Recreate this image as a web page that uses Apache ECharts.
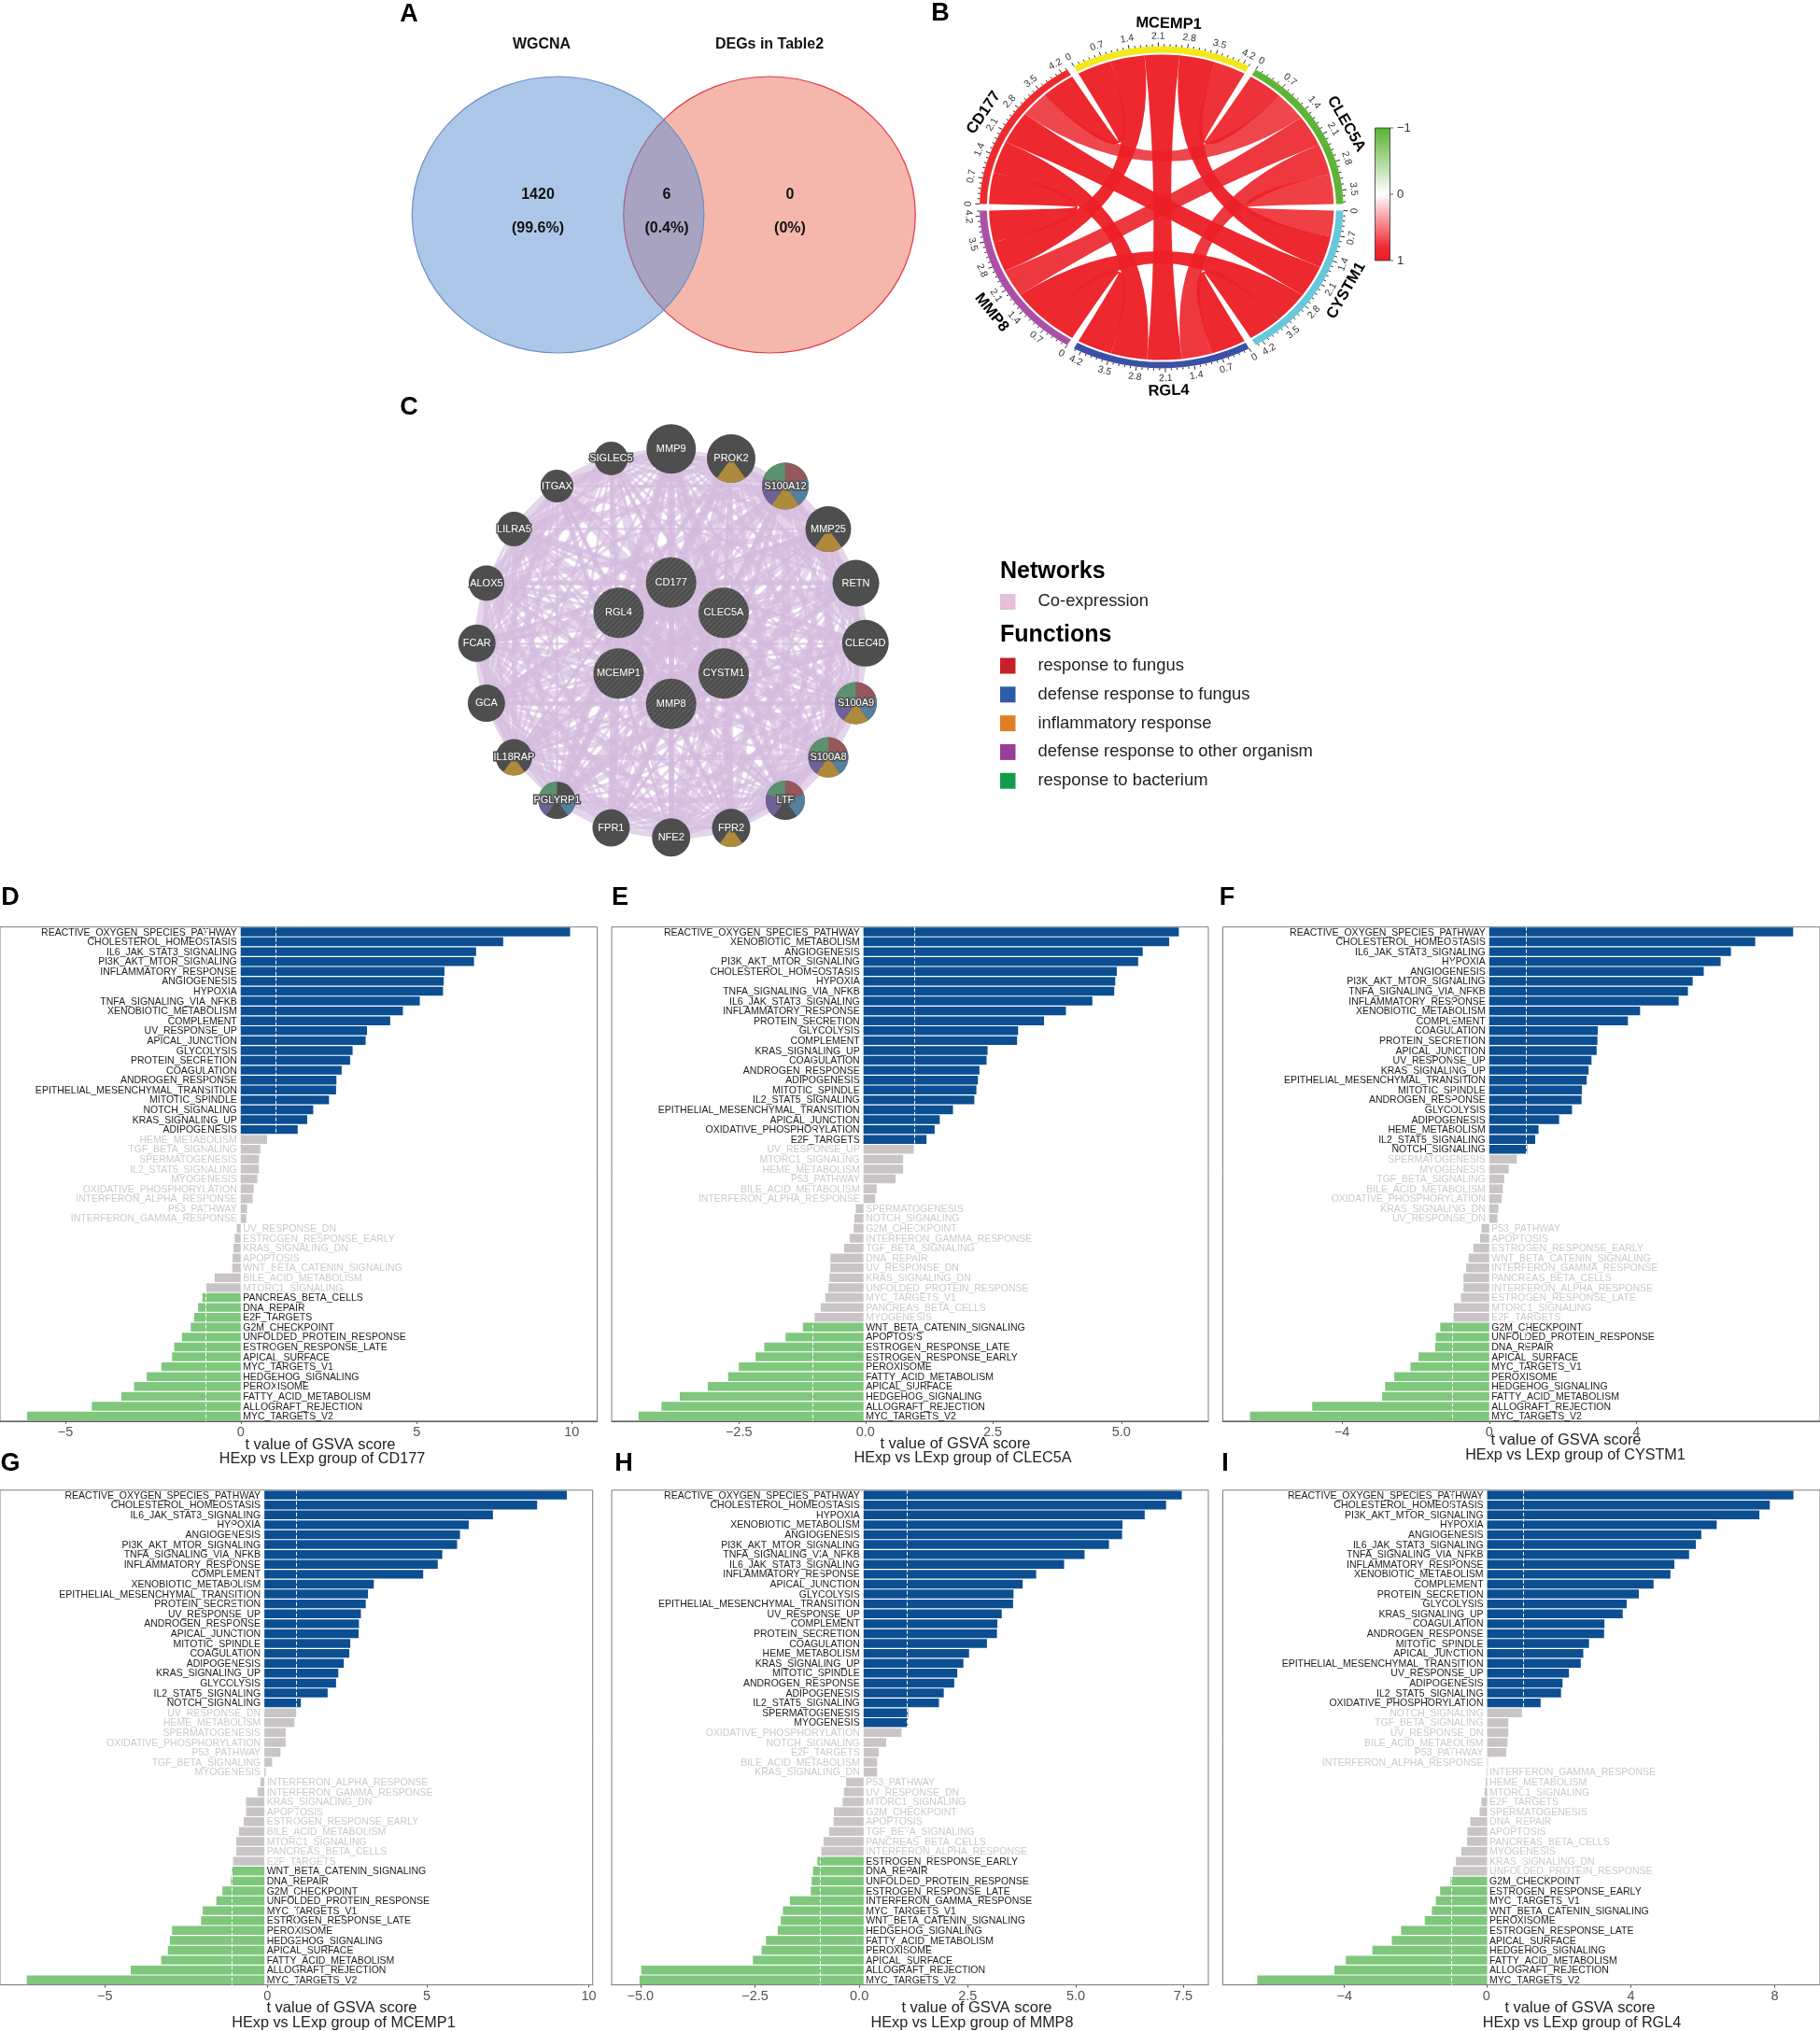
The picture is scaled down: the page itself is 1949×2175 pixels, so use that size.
<!DOCTYPE html>
<html>
<head>
<meta charset="utf-8">
<title>GSVA figure</title>
<script src="https://cdn.jsdelivr.net/npm/echarts@6/dist/echarts.min.js"></script>
<style>
  html,body{margin:0;padding:0;background:#fff;}
  #main{width:1949px;height:2175px;}
</style>
</head>
<body>
<div id="main"></div>
<script type="text/javascript">
// panel A
var vennSets = ['WGCNA', 'DEGs in Table2'];
var vennCounts = ['1420', '6', '0'];
var vennShares = ['(99.6%)', '(0.4%)', '(0%)'];

// panel B
var chordGenes = ['MCEMP1', 'CLEC5A', 'CYSTM1', 'RGL4', 'MMP8', 'CD177'];
var chordCorr = [
  [0,    0.80, 0.92, 0.88, 0.87, 0.88],
  [0.80, 0,    0.75, 0.78, 0.78, 0.72],
  [0.92, 0.75, 0,    0.90, 0.90, 0.93],
  [0.88, 0.78, 0.90, 0,    0.90, 0.93],
  [0.87, 0.78, 0.90, 0.90, 0,    0.90],
  [0.88, 0.72, 0.93, 0.93, 0.90, 0]
];
var chordTicks = [0, 0.7, 1.4, 2.1, 2.8, 3.5, 4.2];
var chordColors = ['#f4e81b', '#5fb437', '#67c8dc', '#3a50a4', '#ab50a6', '#ee2a2f'];

// panel C
var netOuter = ['MMP9','PROK2','S100A12','MMP25','RETN','CLEC4D','S100A9','S100A8','LTF','FPR2','NFE2','FPR1','PGLYRP1','IL18RAP','GCA','FCAR','ALOX5','LILRA5','ITGAX','SIGLEC5'];
var netOuterScore = [53,52,50,49,50,50,45,43,42,41,41,40,40,39,40,40,38,37,35,36];
var netInner = ['CD177','CLEC5A','CYSTM1','MMP8','MCEMP1','RGL4'];
var netInnerScore = [54,54,54,54,54,54];
var netFunctions = {S100A12:[0,1,2,3,4],S100A9:[0,1,2,3,4],S100A8:[0,1,2,3,4],LTF:[0,1,3,4],PGLYRP1:[1,3,4],PROK2:[2],MMP25:[2],FPR2:[2],IL18RAP:[2]};
var legendFunctions = ['response to fungus','defense response to fungus','inflammatory response','defense response to other organism','response to bacterium'];
var legendColors = ['#c8202a','#2f5ca8','#e07f22','#9a3d98','#0f9d4b'];
var sliceColors = ['#95585c','#55809f','#ae8a3d','#6e6298','#5c9170'];
// co-expression weight, upper triangle, read row by row
var netEdges = [
  '12321 21312 13111 21323 23132','3231 21212 13121 12123 12312','423 21321 21212 13112 32132','32 13212 12131 21012 23123',
  '3 21213 12121 10112 21321','31212 12101 11012 13212','4321 21210 11012 31232','532 11210 10112 32123',
  '32 12121 01012 12312','3 13121 10113 23121','21212 21102 13212','3121 21012 21323','232 12112 13212',
  '23 12112 32131','3 21223 13212','31232 12313','1242 12121','313 12132','42 13121','1 21312','32213','2322','323','23','3'
];

// panels D-I
var panelGenes = ['CD177','CLEC5A','CYSTM1','MCEMP1','MMP8','RGL4'];

var dTerms = ['REACTIVE_OXYGEN_SPECIES_PATHWAY','CHOLESTEROL_HOMEOSTASIS','IL6_JAK_STAT3_SIGNALING','PI3K_AKT_MTOR_SIGNALING','INFLAMMATORY_RESPONSE','ANGIOGENESIS','HYPOXIA','TNFA_SIGNALING_VIA_NFKB','XENOBIOTIC_METABOLISM','COMPLEMENT','UV_RESPONSE_UP','APICAL_JUNCTION','GLYCOLYSIS','PROTEIN_SECRETION','COAGULATION','ANDROGEN_RESPONSE','EPITHELIAL_MESENCHYMAL_TRANSITION','MITOTIC_SPINDLE','NOTCH_SIGNALING','KRAS_SIGNALING_UP','ADIPOGENESIS','HEME_METABOLISM','TGF_BETA_SIGNALING','SPERMATOGENESIS','IL2_STAT5_SIGNALING','MYOGENESIS','OXIDATIVE_PHOSPHORYLATION','INTERFERON_ALPHA_RESPONSE','P53_PATHWAY','INTERFERON_GAMMA_RESPONSE','UV_RESPONSE_DN','ESTROGEN_RESPONSE_EARLY','KRAS_SIGNALING_DN','APOPTOSIS','WNT_BETA_CATENIN_SIGNALING','BILE_ACID_METABOLISM','MTORC1_SIGNALING','PANCREAS_BETA_CELLS','DNA_REPAIR','E2F_TARGETS','G2M_CHECKPOINT','UNFOLDED_PROTEIN_RESPONSE','ESTROGEN_RESPONSE_LATE','APICAL_SURFACE','MYC_TARGETS_V1','HEDGEHOG_SIGNALING','PEROXISOME','FATTY_ACID_METABOLISM','ALLOGRAFT_REJECTION','MYC_TARGETS_V2'];
var dValues = [9.36,7.46,6.69,6.63,5.79,5.77,5.75,5.09,4.61,4.25,3.59,3.55,3.18,3.11,2.87,2.72,2.71,2.51,2.06,1.89,1.62,0.75,0.56,0.52,0.52,0.47,0.37,0.34,0.18,0.16,-0.11,-0.17,-0.21,-0.23,-0.24,-0.74,-0.98,-1.09,-1.21,-1.32,-1.42,-1.67,-1.89,-1.95,-2.25,-2.67,-3.03,-3.39,-4.23,-6.07];
var dTickAt = [-4.98,0,5,9.41];
var dTickText = ['\u22125','0','5','10'];

var eTerms = ['REACTIVE_OXYGEN_SPECIES_PATHWAY','XENOBIOTIC_METABOLISM','ANGIOGENESIS','PI3K_AKT_MTOR_SIGNALING','CHOLESTEROL_HOMEOSTASIS','HYPOXIA','TNFA_SIGNALING_VIA_NFKB','IL6_JAK_STAT3_SIGNALING','INFLAMMATORY_RESPONSE','PROTEIN_SECRETION','GLYCOLYSIS','COMPLEMENT','KRAS_SIGNALING_UP','COAGULATION','ANDROGEN_RESPONSE','ADIPOGENESIS','MITOTIC_SPINDLE','IL2_STAT5_SIGNALING','EPITHELIAL_MESENCHYMAL_TRANSITION','APICAL_JUNCTION','OXIDATIVE_PHOSPHORYLATION','E2F_TARGETS','UV_RESPONSE_UP','MTORC1_SIGNALING','HEME_METABOLISM','P53_PATHWAY','BILE_ACID_METABOLISM','INTERFERON_ALPHA_RESPONSE','SPERMATOGENESIS','NOTCH_SIGNALING','G2M_CHECKPOINT','INTERFERON_GAMMA_RESPONSE','TGF_BETA_SIGNALING','DNA_REPAIR','UV_RESPONSE_DN','KRAS_SIGNALING_DN','UNFOLDED_PROTEIN_RESPONSE','MYC_TARGETS_V1','PANCREAS_BETA_CELLS','MYOGENESIS','WNT_BETA_CATENIN_SIGNALING','APOPTOSIS','ESTROGEN_RESPONSE_LATE','ESTROGEN_RESPONSE_EARLY','PEROXISOME','FATTY_ACID_METABOLISM','APICAL_SURFACE','HEDGEHOG_SIGNALING','ALLOGRAFT_REJECTION','MYC_TARGETS_V2'];
var eValues = [6.20,6.01,5.49,5.40,4.98,4.95,4.93,4.50,3.98,3.55,3.04,3.02,2.44,2.42,2.28,2.25,2.22,2.18,1.76,1.50,1.40,1.24,0.99,0.78,0.78,0.63,0.26,0.23,-0.15,-0.18,-0.19,-0.27,-0.38,-0.65,-0.65,-0.67,-0.69,-0.75,-0.84,-0.96,-1.19,-1.53,-1.95,-2.12,-2.45,-2.66,-3.06,-3.61,-3.97,-4.42];
var eTickAt = [-2.45,0.04,2.54,5.07];
var eTickText = ['\u22122.5','0.0','2.5','5.0'];

var fTerms = ['REACTIVE_OXYGEN_SPECIES_PATHWAY','CHOLESTEROL_HOMEOSTASIS','IL6_JAK_STAT3_SIGNALING','HYPOXIA','ANGIOGENESIS','PI3K_AKT_MTOR_SIGNALING','TNFA_SIGNALING_VIA_NFKB','INFLAMMATORY_RESPONSE','XENOBIOTIC_METABOLISM','COMPLEMENT','COAGULATION','PROTEIN_SECRETION','APICAL_JUNCTION','UV_RESPONSE_UP','KRAS_SIGNALING_UP','EPITHELIAL_MESENCHYMAL_TRANSITION','MITOTIC_SPINDLE','ANDROGEN_RESPONSE','GLYCOLYSIS','ADIPOGENESIS','HEME_METABOLISM','IL2_STAT5_SIGNALING','NOTCH_SIGNALING','SPERMATOGENESIS','MYOGENESIS','TGF_BETA_SIGNALING','BILE_ACID_METABOLISM','OXIDATIVE_PHOSPHORYLATION','KRAS_SIGNALING_DN','UV_RESPONSE_DN','P53_PATHWAY','APOPTOSIS','ESTROGEN_RESPONSE_EARLY','WNT_BETA_CATENIN_SIGNALING','INTERFERON_GAMMA_RESPONSE','PANCREAS_BETA_CELLS','INTERFERON_ALPHA_RESPONSE','ESTROGEN_RESPONSE_LATE','MTORC1_SIGNALING','E2F_TARGETS','G2M_CHECKPOINT','UNFOLDED_PROTEIN_RESPONSE','DNA_REPAIR','APICAL_SURFACE','MYC_TARGETS_V1','PEROXISOME','HEDGEHOG_SIGNALING','FATTY_ACID_METABOLISM','ALLOGRAFT_REJECTION','MYC_TARGETS_V2'];
var fValues = [8.26,7.23,6.57,6.29,5.83,5.53,5.40,5.15,4.10,3.77,2.95,2.94,2.92,2.78,2.70,2.65,2.52,2.51,2.25,1.90,1.34,1.25,1.03,0.75,0.53,0.41,0.37,0.34,0.25,0.22,-0.21,-0.25,-0.43,-0.56,-0.63,-0.70,-0.70,-0.77,-0.96,-0.97,-1.33,-1.45,-1.47,-1.92,-2.14,-2.58,-2.83,-2.91,-4.81,-6.50];
var fTickAt = [-4,0,4];
var fTickText = ['\u22124','0','4'];

var gTerms = ['REACTIVE_OXYGEN_SPECIES_PATHWAY','CHOLESTEROL_HOMEOSTASIS','IL6_JAK_STAT3_SIGNALING','HYPOXIA','ANGIOGENESIS','PI3K_AKT_MTOR_SIGNALING','TNFA_SIGNALING_VIA_NFKB','INFLAMMATORY_RESPONSE','COMPLEMENT','XENOBIOTIC_METABOLISM','EPITHELIAL_MESENCHYMAL_TRANSITION','PROTEIN_SECRETION','UV_RESPONSE_UP','ANDROGEN_RESPONSE','APICAL_JUNCTION','MITOTIC_SPINDLE','COAGULATION','ADIPOGENESIS','KRAS_SIGNALING_UP','GLYCOLYSIS','IL2_STAT5_SIGNALING','NOTCH_SIGNALING','UV_RESPONSE_DN','HEME_METABOLISM','SPERMATOGENESIS','OXIDATIVE_PHOSPHORYLATION','P53_PATHWAY','TGF_BETA_SIGNALING','MYOGENESIS','INTERFERON_ALPHA_RESPONSE','INTERFERON_GAMMA_RESPONSE','KRAS_SIGNALING_DN','APOPTOSIS','ESTROGEN_RESPONSE_EARLY','BILE_ACID_METABOLISM','MTORC1_SIGNALING','PANCREAS_BETA_CELLS','E2F_TARGETS','WNT_BETA_CATENIN_SIGNALING','DNA_REPAIR','G2M_CHECKPOINT','UNFOLDED_PROTEIN_RESPONSE','MYC_TARGETS_V1','ESTROGEN_RESPONSE_LATE','PEROXISOME','HEDGEHOG_SIGNALING','APICAL_SURFACE','FATTY_ACID_METABOLISM','ALLOGRAFT_REJECTION','MYC_TARGETS_V2'];
var gValues = [9.37,8.45,7.08,6.33,6.06,5.97,5.51,5.37,4.92,3.39,3.21,3.14,2.99,2.93,2.92,2.66,2.63,2.46,2.29,2.22,1.96,1.13,0.99,0.93,0.66,0.66,0.50,0.24,0.04,-0.12,-0.21,-0.57,-0.57,-0.64,-0.79,-0.87,-0.87,-0.97,-1.01,-1.04,-1.30,-1.49,-1.91,-1.96,-2.86,-2.93,-2.99,-3.20,-4.14,-7.36];
var gTickAt = [-4.94,0.09,5.03,10.05];
var gTickText = ['\u22125','0','5','10'];

var hTerms = ['REACTIVE_OXYGEN_SPECIES_PATHWAY','CHOLESTEROL_HOMEOSTASIS','HYPOXIA','XENOBIOTIC_METABOLISM','ANGIOGENESIS','PI3K_AKT_MTOR_SIGNALING','TNFA_SIGNALING_VIA_NFKB','IL6_JAK_STAT3_SIGNALING','INFLAMMATORY_RESPONSE','APICAL_JUNCTION','GLYCOLYSIS','EPITHELIAL_MESENCHYMAL_TRANSITION','UV_RESPONSE_UP','COMPLEMENT','PROTEIN_SECRETION','COAGULATION','HEME_METABOLISM','KRAS_SIGNALING_UP','MITOTIC_SPINDLE','ANDROGEN_RESPONSE','ADIPOGENESIS','IL2_STAT5_SIGNALING','SPERMATOGENESIS','MYOGENESIS','OXIDATIVE_PHOSPHORYLATION','NOTCH_SIGNALING','E2F_TARGETS','BILE_ACID_METABOLISM','KRAS_SIGNALING_DN','P53_PATHWAY','UV_RESPONSE_DN','MTORC1_SIGNALING','G2M_CHECKPOINT','APOPTOSIS','TGF_BETA_SIGNALING','PANCREAS_BETA_CELLS','INTERFERON_ALPHA_RESPONSE','ESTROGEN_RESPONSE_EARLY','DNA_REPAIR','UNFOLDED_PROTEIN_RESPONSE','ESTROGEN_RESPONSE_LATE','INTERFERON_GAMMA_RESPONSE','MYC_TARGETS_V1','WNT_BETA_CATENIN_SIGNALING','HEDGEHOG_SIGNALING','FATTY_ACID_METABOLISM','PEROXISOME','APICAL_SURFACE','ALLOGRAFT_REJECTION','MYC_TARGETS_V2'];
var hValues = [7.30,6.94,6.45,5.94,5.93,5.63,5.07,4.60,3.96,3.65,3.44,3.43,3.17,3.07,3.06,2.83,2.42,2.29,2.15,2.08,1.84,1.73,1.02,1.01,0.87,0.52,0.35,0.31,0.31,-0.40,-0.45,-0.48,-0.68,-0.69,-0.79,-0.92,-0.97,-1.06,-1.16,-1.19,-1.21,-1.69,-1.85,-1.90,-1.97,-2.24,-2.34,-2.54,-5.10,-5.14];
var hTickAt = [-5.12,-2.49,-0.10,2.39,4.87,7.33];
var hTickText = ['\u22125.0','\u22122.5','0.0','2.5','5.0','7.5'];

var iTerms = ['REACTIVE_OXYGEN_SPECIES_PATHWAY','CHOLESTEROL_HOMEOSTASIS','PI3K_AKT_MTOR_SIGNALING','HYPOXIA','ANGIOGENESIS','IL6_JAK_STAT3_SIGNALING','TNFA_SIGNALING_VIA_NFKB','INFLAMMATORY_RESPONSE','XENOBIOTIC_METABOLISM','COMPLEMENT','PROTEIN_SECRETION','GLYCOLYSIS','KRAS_SIGNALING_UP','COAGULATION','ANDROGEN_RESPONSE','MITOTIC_SPINDLE','APICAL_JUNCTION','EPITHELIAL_MESENCHYMAL_TRANSITION','UV_RESPONSE_UP','ADIPOGENESIS','IL2_STAT5_SIGNALING','OXIDATIVE_PHOSPHORYLATION','NOTCH_SIGNALING','TGF_BETA_SIGNALING','UV_RESPONSE_DN','BILE_ACID_METABOLISM','P53_PATHWAY','INTERFERON_ALPHA_RESPONSE','INTERFERON_GAMMA_RESPONSE','HEME_METABOLISM','MTORC1_SIGNALING','E2F_TARGETS','SPERMATOGENESIS','DNA_REPAIR','APOPTOSIS','PANCREAS_BETA_CELLS','MYOGENESIS','KRAS_SIGNALING_DN','UNFOLDED_PROTEIN_RESPONSE','G2M_CHECKPOINT','ESTROGEN_RESPONSE_EARLY','MYC_TARGETS_V1','WNT_BETA_CATENIN_SIGNALING','PEROXISOME','ESTROGEN_RESPONSE_LATE','APICAL_SURFACE','HEDGEHOG_SIGNALING','FATTY_ACID_METABOLISM','ALLOGRAFT_REJECTION','MYC_TARGETS_V2'];
var iValues = [8.54,7.88,7.59,6.40,5.97,5.82,5.63,5.22,5.11,4.64,4.23,3.89,3.78,3.27,3.26,2.84,2.68,2.61,2.28,2.10,2.06,1.49,0.97,0.59,0.59,0.57,0.53,0.02,-0.02,-0.04,-0.07,-0.16,-0.21,-0.47,-0.55,-0.56,-0.72,-0.87,-0.95,-1.02,-1.31,-1.43,-1.54,-1.74,-2.40,-2.66,-3.20,-3.94,-4.26,-6.41];
var iTickAt = [-3.98,-0.02,4.01,8.02];
var iTickText = ['\u22124','0','4','8'];

var cutoff = 1;

// ------ layout and styles ------
var FONT = '"Liberation Sans", Arial, sans-serif';
var chart = echarts.init(document.getElementById('main'));

var panels = [
  {letter:'D', lx:11,   ly:962,  terms:dTerms, values:dValues, ticks:dTickAt, texts:dTickText, min:-6.84, max:10.13, left:0,      width:639.5, top:992.7,  height:529.1, tx:343,  ty:1547, cx:345,  cy:1562.5},
  {letter:'E', lx:664,  ly:962,  terms:eTerms, values:eValues, ticks:eTickAt, texts:eTickText, min:-4.95, max:6.78,  left:655,    width:639,   top:992.7,  height:529.1, tx:1023, ty:1546, cx:1031, cy:1562},
  {letter:'F', lx:1314, ly:962,  terms:fTerms, values:fValues, ticks:fTickAt, texts:fTickText, min:-7.24, max:8.99,  left:1309.5, width:639.5, top:992.7,  height:529.1, tx:1677, ty:1542, cx:1687, cy:1559},
  {letter:'G', lx:11,   ly:1568, terms:gTerms, values:gValues, ticks:gTickAt, texts:gTickText, min:-8.19, max:10.17, left:0,      width:634.7, top:1595.8, height:529.8, tx:366,  ty:2150, cx:368,  cy:2167},
  {letter:'H', lx:668,  ly:1568, terms:hTerms, values:hValues, ticks:hTickAt, texts:hTickText, min:-5.78, max:7.91,  left:655,    width:639,   top:1595.8, height:529.8, tx:1046, ty:2150, cx:1041, cy:2167},
  {letter:'I', lx:1312, ly:1568, terms:iTerms, values:iValues, ticks:iTickAt, texts:iTickText, min:-7.37, max:9.28,  left:1309.5, width:639.5, top:1595.8, height:529.8, tx:1692, ty:2150, cx:1694, cy:2167}
];

var grids = [], xAxes = [], yAxes = [], series = [], graphics = [];

function textEl(x, y, text, size, weight, color, align) {
  return {type:'text', x:x, y:y, silent:true, z:20, style:{text:text, font:(weight||'normal')+' '+size+'px '+FONT, fill:color||'#000', textAlign:align||'center', textVerticalAlign:'middle'}};
}

function barColor(v) {
  if (v >= cutoff) return '#0b4f92';
  if (v <= -cutoff) return '#7fc77c';
  return '#c9c5c7';
}

panels.forEach(function (p, n) {
  grids.push({left:p.left, top:p.top, width:p.width, height:p.height, show:true, borderColor:'#7d7d7d', borderWidth:1, backgroundColor:'#fff', z:1});
  xAxes.push({
    type:'value', gridIndex:n, min:p.min, max:p.max, splitLine:{show:false},
    axisLine:{show:true, onZero:false, lineStyle:{color:'#4a4a4a', width:1}},
    axisTick:{show:true, length:3, lineStyle:{color:'#555'}, customValues:p.ticks},
    axisLabel:{color:'#555', fontFamily:FONT, fontSize:14.5, margin:5, customValues:p.ticks,
      formatter:function (v) { return p.texts[p.ticks.indexOf(v)]; }}
  });
  yAxes.push({type:'category', gridIndex:n, inverse:true, data:p.terms, show:false});
  series.push({
    type:'bar', xAxisIndex:n, yAxisIndex:n, barWidth:'89%', silent:true, animation:false,
    data:p.values.map(function (v, k) {
      var sig = Math.abs(v) >= cutoff;
      return {
        name:p.terms[k], value:v, itemStyle:{color:barColor(v)},
        label:{show:true, position:v >= 0 ? 'left' : 'right', distance:v >= 0 ? 4 : 2.5, offset:[0, 0.7], formatter:'{b}',
          color:sig ? '#1c1c1c' : '#cbcbcb', fontFamily:FONT, fontSize:10.5}
      };
    }),
    markLine:{silent:true, symbol:'none', animation:false, label:{show:false},
      lineStyle:{color:'#fff', type:'dashed', width:1, opacity:0.95},
      data:[{xAxis:-cutoff},{xAxis:cutoff}]}
  });
  graphics.push(textEl(p.lx, p.ly, p.letter, 27, 'bold'));
  graphics.push(textEl(p.tx, p.ty, 't value of GSVA score', 16.5, 'normal', '#222'));
  graphics.push(textEl(p.cx, p.cy, 'HExp vs LExp group of ' + panelGenes[n], 16.2, 'normal', '#222'));
});

// page-sized hidden grid, one axis unit is one pixel
var PAGE = panels.length;
grids.push({left:0, top:0, width:1949, height:2175, show:false});
xAxes.push({type:'value', gridIndex:PAGE, min:0, max:1949, show:false});
yAxes.push({type:'value', gridIndex:PAGE, min:0, max:2175, inverse:true, show:false});

// ------ A: venn ------
series.push({
  type:'scatter', xAxisIndex:PAGE, yAxisIndex:PAGE, symbol:'circle', symbolSize:[312.5,296], silent:true, animation:false, z:2,
  data:[
    {value:[824,230], itemStyle:{color:'rgba(236,111,90,0.5)', borderColor:'#e23a4c', borderWidth:1.2, opacity:1}},
    {value:[597.6,230], itemStyle:{color:'rgba(91,143,211,0.5)', borderColor:'#6b90c8', borderWidth:1.2, opacity:1}}
  ]
});
graphics.push(textEl(438, 16, 'A', 27, 'bold'));
graphics.push(textEl(580, 48, vennSets[0], 16, 'bold', '#111'));
graphics.push(textEl(824, 48, vennSets[1], 16, 'bold', '#111'));
[576, 714, 846].forEach(function (x, k) {
  graphics.push(textEl(x, 209, vennCounts[k], 16, 'bold', '#111'));
  graphics.push(textEl(x, 245, vennShares[k], 16, 'bold', '#111'));
});

// ------ B: chord ------
var CX = 1243.8, CY = 222, RX = 194.8, RY = 172.5;
var GAP = 2.4, SPAN = 60 - GAP, FIRST = -30 + GAP / 2;
var NAME_NUDGE = [2, 3, -3, -2, -5, 1];
function rad(d) { return d * Math.PI / 180; }
function pt(deg, f) {
  var t = rad(deg);
  return [CX + RX * f * Math.sin(t), CY - RY * f * Math.cos(t)];
}
function sectorTotal(i) { return chordCorr[i].reduce(function (a, b) { return a + b; }, 0); }
function sectorAngle(i, v) { return FIRST + i * 60 + SPAN * v / sectorTotal(i); }
// slots run clockwise: previous sector first, next sector last
var slots = chordGenes.map(function (g, i) {
  var out = {}, used = 0;
  for (var k = 1; k < chordGenes.length; k++) {
    var j = (i - k + chordGenes.length) % chordGenes.length;
    out[j] = [sectorAngle(i, used), sectorAngle(i, used + chordCorr[i][j])];
    used += chordCorr[i][j];
  }
  return out;
});
var chordPairs = [];
chordCorr.forEach(function (row, i) {
  row.forEach(function (c, j) { if (j > i) chordPairs.push([i, j, c]); });
});
var RIB = 0.948;
function arcTo(deg, f) { var q = pt(deg, f); return 'A ' + (RX * f) + ' ' + (RY * f) + ' 0 0 1 ' + q[0] + ' ' + q[1] + ' '; }
function ribbonPath(i, j) {
  var a = slots[i][j], b = slots[j][i];
  var a0 = pt(a[0], RIB), b0 = pt(b[0], RIB);
  return 'M ' + a0[0] + ' ' + a0[1] + ' ' + arcTo(a[1], RIB) +
    'Q ' + CX + ' ' + CY + ' ' + b0[0] + ' ' + b0[1] + ' ' + arcTo(b[1], RIB) +
    'Q ' + CX + ' ' + CY + ' ' + a0[0] + ' ' + a0[1] + ' Z';
}
series.push({
  type:'custom', coordinateSystem:'none', silent:true, animation:false, z:3,
  data:chordPairs,
  renderItem:function (params) {
    var r = chordPairs[params.dataIndex];
    return {type:'path', shape:{pathData:ribbonPath(r[0], r[1])},
      style:{fill:'#ec1f27', opacity:Math.min(0.96, r[2] * 1.14)}};
  }
});
function tangent(deg) {
  var t = rad(deg), dx = RX * Math.cos(t), dy = RY * Math.sin(t);
  if (Math.cos(t) < 0) { dx = -dx; dy = -dy; }
  return -Math.atan2(dy, dx);
}
function rotText(deg, f, text, size, weight, color) {
  var q = pt(deg, f);
  return {type:'text', x:q[0], y:q[1], rotation:tangent(deg),
    style:{text:text, font:(weight||'normal')+' '+size+'px '+FONT, fill:color||'#333', textAlign:'center', textVerticalAlign:'middle'}};
}
series.push({
  type:'custom', coordinateSystem:'none', silent:true, animation:false, z:4,
  data:chordGenes,
  renderItem:function (params) {
    var i = params.dataIndex, kids = [], total = sectorTotal(i);
    var s = sectorAngle(i, 0), e = sectorAngle(i, total);
    var p0 = pt(s, 1), p1 = pt(e, 0.96), q0 = pt(s, 0.96);
    kids.push({type:'path', shape:{pathData:'M ' + p0[0] + ' ' + p0[1] + ' ' + arcTo(e, 1) + 'L ' + p1[0] + ' ' + p1[1] +
      ' A ' + (RX * 0.96) + ' ' + (RY * 0.96) + ' 0 0 0 ' + q0[0] + ' ' + q0[1] + ' Z'},
      style:{fill:chordColors[i]}});
    for (var m = 0; m * 0.14 <= total; m++) {
      var d = sectorAngle(i, m * 0.14), a = pt(d, 1), b = pt(d, m % 5 === 0 ? 1.024 : 1.013);
      kids.push({type:'line', shape:{x1:a[0], y1:a[1], x2:b[0], y2:b[1]}, style:{stroke:'#111', lineWidth:0.9}});
    }
    chordTicks.forEach(function (v) {
      if (v <= total) kids.push(rotText(sectorAngle(i, v), 1.062, String(v), 10.5));
    });
    kids.push(rotText(FIRST + i * 60 + SPAN / 2 + NAME_NUDGE[i], 1.14, chordGenes[i], 16.5, 'bold', '#000'));
    return {type:'group', children:kids};
  }
});
graphics.push(textEl(1007, 15, 'B', 27, 'bold'));
// colour scale
graphics.push({type:'rect', silent:true, shape:{x:1472.5, y:137, width:16, height:142},
  style:{stroke:'#333', lineWidth:0.8, fill:new echarts.graphic.LinearGradient(0, 0, 0, 1, [
    {offset:0, color:'#57b22f'}, {offset:0.5, color:'#ffffff'}, {offset:0.9, color:'#ee2a30'}, {offset:1, color:'#ec1c24'}])}});
[[137,'\u22121'],[208,'0'],[279,'1']].forEach(function (t) {
  graphics.push({type:'line', silent:true, shape:{x1:1488.5, y1:t[0], x2:1492, y2:t[0]}, style:{stroke:'#333', lineWidth:0.8}});
  graphics.push(textEl(1496, t[0], t[1], 13, 'normal', '#333', 'left'));
});

// ------ C: network ------
var NX = 718.7, NY = 688.8, ROUT = 208, RIN = 65;
var netNames = netOuter.concat(netInner);
var netSizes = netOuterScore.concat(netInnerScore);
var netPos = netNames.map(function (n, i) {
  var outerNode = i < netOuter.length;
  var a = outerNode ? i / netOuter.length : (i - netOuter.length) / netInner.length;
  var r = outerNode ? ROUT : RIN;
  return [NX + r * Math.sin(a * 2 * Math.PI), NY - r * Math.cos(a * 2 * Math.PI)];
});
var netLinks = [];
netEdges.forEach(function (row, i) {
  row.replace(/ /g, '').split('').forEach(function (c, k) {
    if (+c > 0) netLinks.push({source:i, target:i + k + 1, lineStyle:{width:+c * 3}});
  });
});
series.push({
  type:'graph', coordinateSystem:'cartesian2d', xAxisIndex:PAGE, yAxisIndex:PAGE, layout:'none', silent:true, animation:false, z:2,
  symbolSize:1, itemStyle:{opacity:0}, label:{show:false},
  lineStyle:{color:'#d3bcdd', opacity:0.62, curveness:0},
  data:netNames.map(function (n, i) { return {name:n, value:netPos[i]}; }),
  links:netLinks
});
series.push({
  type:'custom', coordinateSystem:'cartesian2d', xAxisIndex:PAGE, yAxisIndex:PAGE, silent:true, animation:false, z:5, clip:false,
  data:netPos,
  renderItem:function (params, api) {
    var i = params.dataIndex, c = api.coord(netPos[i]), r = netSizes[i] / 2, name = netNames[i], kids = [];
    kids.push({type:'circle', shape:{cx:c[0], cy:c[1], r:r}, style:{fill:'#4e4e4e'}});
    (netFunctions[name] || []).forEach(function (f) {
      kids.push({type:'sector', shape:{cx:c[0], cy:c[1], r:r, r0:0, startAngle:rad(-90 + f * 72), endAngle:rad(-18 + f * 72)}, style:{fill:sliceColors[f]}});
    });
    if (i >= netOuter.length) {
      for (var d = -r + 2; d < r; d += 4) {
        var h = Math.sqrt(r * r - d * d), s = Math.SQRT1_2;
        kids.push({type:'line', shape:{x1:c[0] + d * s - h * s, y1:c[1] + d * s + h * s, x2:c[0] + d * s + h * s, y2:c[1] + d * s - h * s},
          style:{stroke:'#6c6c6c', lineWidth:1}});
      }
    }
    kids.push({type:'text', x:c[0], y:c[1], style:{text:name, font:'11px ' + FONT, fill:'#fff', stroke:'#4e4e4e', lineWidth:3,
      textAlign:'center', textVerticalAlign:'middle'}});
    return {type:'group', children:kids};
  }
});
graphics.push(textEl(438, 437, 'C', 27, 'bold'));
graphics.push(textEl(1071, 612, 'Networks', 25, 'bold', '#000', 'left'));
graphics.push(textEl(1071, 680, 'Functions', 25, 'bold', '#000', 'left'));
graphics.push({type:'rect', silent:true, shape:{x:1071, y:636, width:16.5, height:17}, style:{fill:'#e5bfdc'}});
graphics.push(textEl(1111.5, 644, 'Co-expression', 18.4, 'normal', '#222', 'left'));
legendFunctions.forEach(function (t, k) {
  var y = 713 + k * 30.8;
  graphics.push({type:'rect', silent:true, shape:{x:1071, y:y - 8.5, width:16.5, height:17}, style:{fill:legendColors[k]}});
  graphics.push(textEl(1111.5, y, t, 18.4, 'normal', '#222', 'left'));
});

chart.setOption({
  animation:false,
  backgroundColor:'#fff',
  textStyle:{fontFamily:FONT},
  grid:grids, xAxis:xAxes, yAxis:yAxes, series:series, graphic:graphics
});
</script>
</body>
</html>
